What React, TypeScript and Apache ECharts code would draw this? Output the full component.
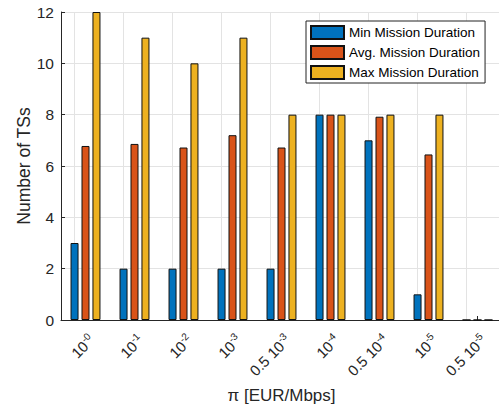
import React, { useEffect, useRef } from "react";
import * as echarts from "echarts";

const categories = ["10^-0", "10^-1", "10^-2", "10^-3", "0.5 10^-3", "10^-4", "0.5 10^-4", "10^-5", "0.5 10^-5"];
const minDuration = [3, 2, 2, 2, 2, 8, 7, 1, 0];
const avgDuration = [6.78, 6.86, 6.72, 7.2, 6.72, 8, 7.92, 6.45, 0];
const maxDuration = [12, 11, 10, 11, 8, 8, 8, 8, 0];
const seriesNames = ["Min Mission Duration", "Avg. Mission Duration", "Max Mission Duration"];
const yTicks = [0, 2, 4, 6, 8, 10, 12];

const FONT = "Liberation Sans";
const TXT = "#262626";

export default function App() {
  const ref = useRef<HTMLDivElement>(null);
  useEffect(() => {
    if (!ref.current) return;
    const chart = echarts.init(ref.current, undefined, { renderer: "svg" });
    const mkSeries = (name: string, data: number[], color: string, withGrid: boolean) => ({
      name,
      type: "bar",
      data,
      barWidth: 8,
      barGap: "37%",
      z: 2,
      itemStyle: { color, borderColor: "#111", borderWidth: 1 },
      markLine: withGrid
        ? {
            silent: true,
            z: 1,
            symbol: "none",
            label: { show: false },
            lineStyle: { color: "#e3e3e3", width: 1, type: "solid" },
            data: categories.map((c) => ({ xAxis: c })),
          }
        : undefined,
    });
    chart.setOption({
      animation: false,
      textStyle: { fontFamily: FONT },
      grid: { left: 61, top: 12, width: 441, bottom: 85, containLabel: false, outerBoundsMode: "none" },
      legend: {
        orient: "vertical",
        left: 306,
        top: 21,
        icon: "rect",
        itemWidth: 33,
        itemHeight: 13,
        itemGap: 5,
        padding: [4, 5, 3, 4],
        borderColor: "#222",
        borderWidth: 1,
        backgroundColor: "#fff",
        textStyle: { fontFamily: FONT, fontSize: 13.5, color: "#000" },
        data: seriesNames,
      },
      xAxis: {
        type: "category",
        data: categories,
        boundaryGap: true,
        axisLine: { lineStyle: { color: TXT, width: 1 } },
        axisTick: { show: true, inside: true, alignWithLabel: true, length: 4, lineStyle: { color: TXT } },
        splitLine: { show: false },
        axisLabel: {
          rotate: 45,
          margin: 11,
          interval: 0,
          color: TXT,
          fontSize: 15,
          fontFamily: FONT,
          align: "right",
          verticalAlign: "top",
          formatter: (v: string) => v.replace(/\^(.+)$/, "{sup|$1}"),
          rich: {
            sup: { fontSize: 10, color: TXT, fontFamily: FONT, padding: [0, 0, 8, 0] },
          },
        },
        name: "π [EUR/Mbps]",
        nameLocation: "middle",
        nameGap: 67,
        nameMoveOverlap: false,
        nameTextStyle: { color: TXT, fontSize: 17, fontFamily: FONT },
      },
      yAxis: {
        type: "value",
        min: yTicks[0],
        max: yTicks[yTicks.length - 1],
        interval: 2,
        axisLine: { show: true, lineStyle: { color: TXT, width: 1 } },
        axisTick: { show: true, inside: true, length: 4, lineStyle: { color: TXT } },
        axisLabel: { color: TXT, fontSize: 15.5, fontFamily: FONT, margin: 7 },
        splitLine: { show: true, lineStyle: { color: "#e3e3e3", width: 1 } },
        name: "Number of TSs",
        nameLocation: "middle",
        nameGap: 28,
        nameMoveOverlap: false,
        nameTextStyle: { color: TXT, fontSize: 17.5, fontFamily: FONT },
      },
      series: [
        mkSeries(seriesNames[0], minDuration, "#0072BD", true),
        mkSeries(seriesNames[1], avgDuration, "#D95319", false),
        mkSeries(seriesNames[2], maxDuration, "#EDB120", false),
      ],
    });
    return () => chart.dispose();
  }, []);
  return <div ref={ref} style={{ width: 499, height: 405, position: "absolute", left: 0, top: 0, background: "#fff" }} />;
}
